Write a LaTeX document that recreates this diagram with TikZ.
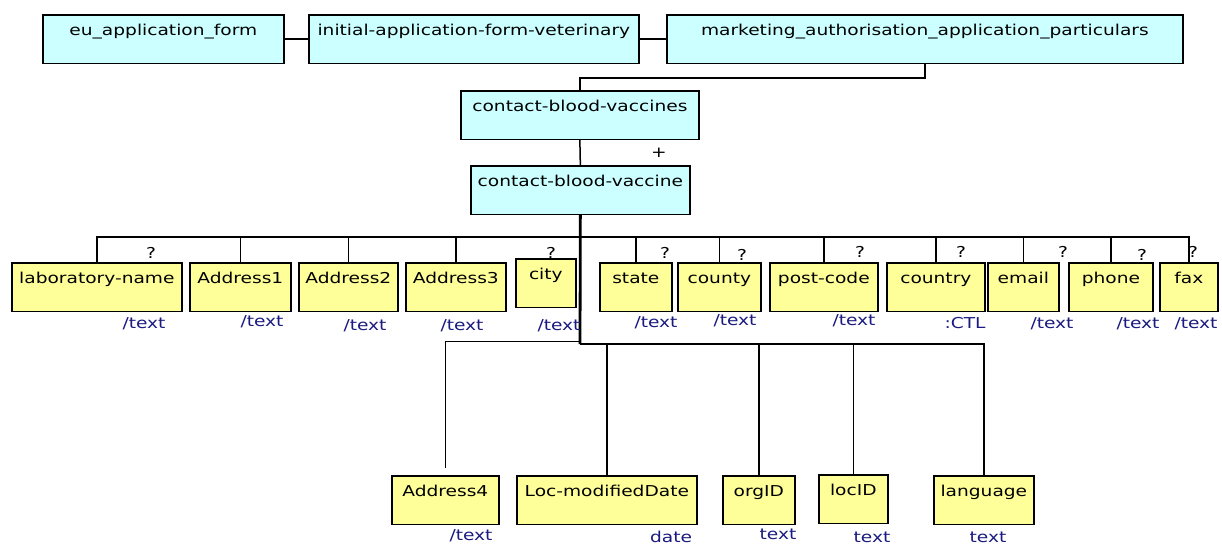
\documentclass[tikz,border=0pt]{standalone}
\usepackage{fontspec}
\newfontfamily\dfont[FakeStretch=1.24]{DejaVu Sans}
\definecolor{cyanfill}{RGB}{204,255,255}
\definecolor{yellowfill}{RGB}{255,255,153}
\definecolor{typeblue}{RGB}{26,26,128}
\begin{document}
\begin{tikzpicture}[x=1pt,y=-1pt,
  every node/.style={font=\dfont\fontsize{15}{18}\selectfont},
  box/.style={draw=black, line width=1.7pt, inner xsep=0pt, inner ysep=0pt,
    text height=21pt, text depth=27.5pt, anchor=north west},
  cbox/.style={box, fill=cyanfill},
  ybox/.style={box, fill=yellowfill},
  conn/.style={line width=1.5pt},
  trunk/.style={line width=2.8pt},
  typ/.style={text=typeblue, anchor=base, inner sep=0pt},
  card/.style={anchor=base, inner sep=0pt}]
\fill[white] (0,0) rectangle (1222,544);
\useasboundingbox (0,0) rectangle (1222,544);

% top row
\node[cbox, minimum width=241pt] (eu) at (42,14) {eu\_application\_form};
\node[cbox, minimum width=330pt] (init) at (308,14) {initial-application-form-veterinary};
\node[cbox, minimum width=516pt] (mkt) at (666,14) {marketing\_authorisation\_application\_particulars};
\node[cbox, minimum width=238pt] (cbvs) at (460,90) {contact-blood-vaccines};
\node[cbox, minimum width=219pt] (cbv) at (470,165) {contact-blood-vaccine};

% children row 1
\node[ybox, minimum width=170pt] (lab) at (11,262) {laboratory-name};
\node[ybox, minimum width=101pt] (a1) at (189,262) {Address1};
\node[ybox, minimum width=99pt] (a2) at (298,262) {Address2};
\node[ybox, minimum width=100pt] (a3) at (405,262) {Address3};
\node[ybox, minimum width=60pt] (city) at (515,258) {city};
\node[ybox, minimum width=72pt] (state) at (599,262) {state};
\node[ybox, minimum width=83pt] (county) at (677,262) {county};
\node[ybox, minimum width=108pt] (post) at (769,262) {post-code};
\node[ybox, minimum width=98pt] (country) at (886,262) {country};
\node[ybox, minimum width=71pt] (email) at (987,262) {email};
\node[ybox, minimum width=84pt] (phone) at (1068,262) {phone};
\node[ybox, minimum width=58pt] (fax) at (1159,262) {fax};

% children row 2
\node[ybox, minimum width=107pt] (a4) at (391,475) {Address4};
\node[ybox, minimum width=180pt] (locmod) at (516,475) {Loc-modifiedDate};
\node[ybox, minimum width=72pt] (org) at (722,475) {orgID};
\node[ybox, minimum width=69pt] (loc) at (818,474) {locID};
\node[ybox, minimum width=100pt] (lang) at (933,475) {language};

% connectors top
\draw[conn] (eu.east) -- (init.west);
\draw[conn] (init.east) -- (mkt.west);
\draw[conn] (mkt.south) -- ++(0,14) -| (cbvs.north);
\draw[conn] (cbvs.south) -- (cbv.north);
\node[card] (plus) at (659,157) {+};

% junctions
\coordinate (j1) at (580,237);
\coordinate (j2) at (580,344);
\coordinate (j3) at (580,341.5);

\draw[trunk] (cbv.south) -- (j2);
\draw[trunk] (j1) -- (fax.north |- j1);
\foreach \c in {lab,a1,a2,a3,state,county,post,country,email,phone,fax}
  \draw[conn] (j1) -| (\c.north);

\draw[trunk] (j2) -- (loc.north |- j2);
\foreach \c in {locmod,org,loc,lang}
  \draw[conn] (j2) -| (\c.north);
\draw[conn, shorten >=7pt] (j3) -| (a4.north);

% cardinalities
\node[card] (q1) at (151,258) {?};
\node[card] (q2) at (551,258) {?};
\node[card] (q3) at (665,258) {?};
\node[card] (q4) at (742,260) {?};
\node[card] (q5) at (860,257) {?};
\node[card] (q6) at (961,257) {?};
\node[card] (q7) at (1063,257) {?};
\node[card] (q8) at (1142,260) {?};
\node[card] (q9) at (1193,257) {?};

% types
\node[typ] (t1) at (144,328) {/text};
\node[typ] (t2) at (262,326) {/text};
\node[typ] (t3) at (365,330) {/text};
\node[typ] (t4) at (462,330) {/text};
\node[typ] (t5) at (559,330) {/text};
\node[typ] (t6) at (656,327) {/text};
\node[typ] (t7) at (735,325) {/text};
\node[typ] (t8) at (854,325) {/text};
\node[typ] (t9) at (965,328) {:CTL};
\node[typ] (t10) at (1052,328) {/text};
\node[typ] (t11) at (1138,328) {/text};
\node[typ] (t12) at (1196,328) {/text};

\node[typ] (t13) at (471,540) {/text};
\node[typ] (t14) at (671,542.5) {date};
\node[typ] (t15) at (778,539.5) {text};
\node[typ] (t16) at (872,542.5) {text};
\node[typ] (t17) at (988,542.5) {text};
\end{tikzpicture}
\end{document}
